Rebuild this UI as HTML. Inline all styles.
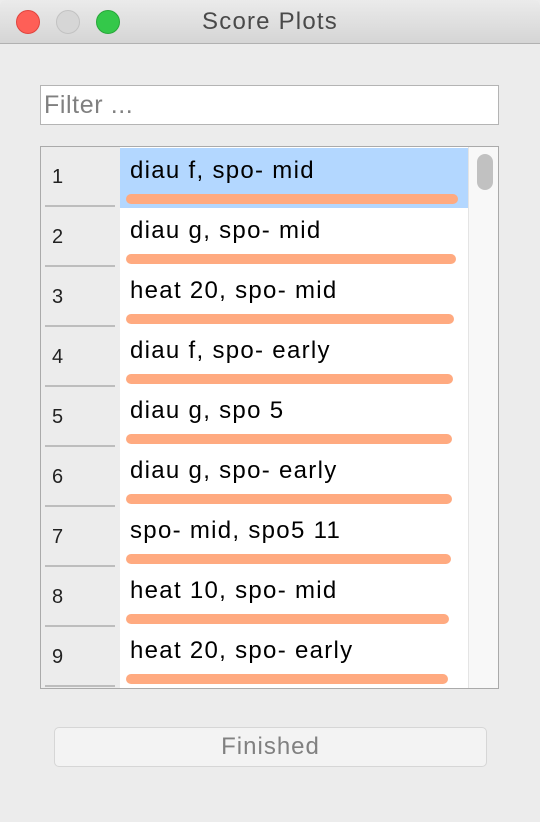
<!DOCTYPE html>
<html><head><style>
*{margin:0;padding:0;box-sizing:border-box}
body{width:540px;height:822px;background:#ececec;font-family:"Liberation Sans",sans-serif;position:relative;overflow:hidden}
.tb{position:absolute;left:0;top:0;width:540px;height:44px;background:linear-gradient(#ebebeb,#d5d5d5);border-bottom:1px solid #b1b1b1;border-radius:6px 6px 0 0}
.c{position:absolute;top:10px;width:24px;height:24px;border-radius:50%}
.title{position:absolute;top:8px;left:0;width:540px;text-align:center;font-size:24px;letter-spacing:1.2px;color:#4a4a4a}
.filter{position:absolute;left:40px;top:85px;width:459px;height:40px;background:#fff;border:1px solid #b4b4b4;font-size:25px;letter-spacing:0.6px;color:#808080;padding:5px 0 0 3px}
.list{position:absolute;left:40px;top:146px;width:459px;height:543px;border:1px solid #aaa;background:#fff;overflow:hidden}
.left{position:absolute;left:0;top:0;width:79px;height:541px;background:#ececec}
.sep{position:absolute;left:4px;width:70px;height:2px;background:#bdbdbd}
.num{position:absolute;left:11px;font-size:20px;color:#222}
.row{position:absolute;left:79px;width:348px;height:60px}
.row span{position:absolute;left:10px;top:9px;font-size:24px;letter-spacing:1.3px;color:#000;white-space:nowrap}
.bar{position:absolute;left:6px;top:46px;height:10px;border-radius:5px;background:#ffaa80}
.track{position:absolute;left:427px;top:0;width:30px;height:541px;background:#f8f8f8;border-left:1px solid #e4e4e4}
.thumb{position:absolute;left:8px;top:7px;width:16px;height:36px;border-radius:8px;background:#c1c1c1}
.btn{position:absolute;left:54px;top:727px;width:433px;height:40px;background:#f3f3f3;border:1px solid #d6d6d6;border-radius:5px;text-align:center;font-size:24px;letter-spacing:1px;color:#808080;padding-top:5px}
</style></head><body>
<div class="tb"></div>
<div class="c" style="left:16px;background:#fe5f57;border:1px solid #e0443e"></div>
<div class="c" style="left:56px;background:#d6d6d6;border:1px solid #c2c2c2"></div>
<div class="c" style="left:96px;background:#34c84a;border:1px solid #28a73a"></div>
<div class="title">Score Plots</div>
<div class="filter">Filter ...</div>
<div class="list">
<div class="left">
<div class="num" style="top:19px">1</div><div class="sep" style="top:58px"></div>
<div class="num" style="top:79px">2</div><div class="sep" style="top:118px"></div>
<div class="num" style="top:139px">3</div><div class="sep" style="top:178px"></div>
<div class="num" style="top:199px">4</div><div class="sep" style="top:238px"></div>
<div class="num" style="top:259px">5</div><div class="sep" style="top:298px"></div>
<div class="num" style="top:319px">6</div><div class="sep" style="top:358px"></div>
<div class="num" style="top:379px">7</div><div class="sep" style="top:418px"></div>
<div class="num" style="top:439px">8</div><div class="sep" style="top:478px"></div>
<div class="num" style="top:499px">9</div><div class="sep" style="top:538px"></div>
</div>
<div class="row" style="top:1px;background:#b3d7ff"><span>diau f, spo- mid</span><div class="bar" style="width:332px"></div></div>
<div class="row" style="top:61px"><span>diau g, spo- mid</span><div class="bar" style="width:330px"></div></div>
<div class="row" style="top:121px"><span>heat 20, spo- mid</span><div class="bar" style="width:328px"></div></div>
<div class="row" style="top:181px"><span>diau f, spo- early</span><div class="bar" style="width:327px"></div></div>
<div class="row" style="top:241px"><span>diau g, spo 5</span><div class="bar" style="width:326px"></div></div>
<div class="row" style="top:301px"><span>diau g, spo- early</span><div class="bar" style="width:326px"></div></div>
<div class="row" style="top:361px"><span>spo- mid, spo5 11</span><div class="bar" style="width:325px"></div></div>
<div class="row" style="top:421px"><span>heat 10, spo- mid</span><div class="bar" style="width:323px"></div></div>
<div class="row" style="top:481px"><span>heat 20, spo- early</span><div class="bar" style="width:322px"></div></div>
<div class="track"><div class="thumb"></div></div>
</div>
<div class="btn">Finished</div>
</body></html>
